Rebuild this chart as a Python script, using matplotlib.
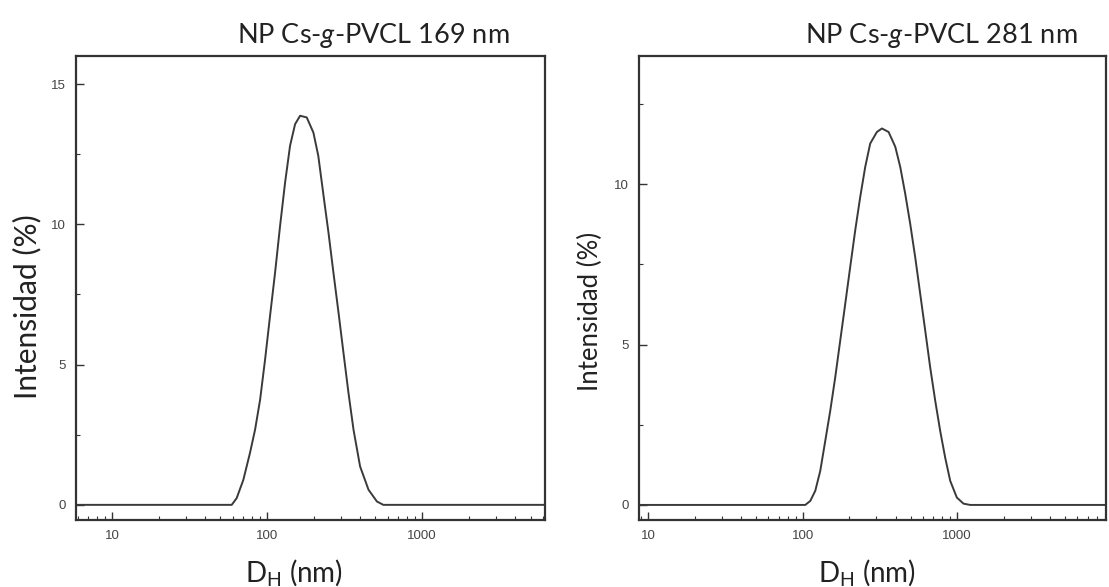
import numpy as np
import matplotlib
matplotlib.use("Agg")
import matplotlib.pyplot as plt
from matplotlib.ticker import MultipleLocator, FixedLocator, NullFormatter

plt.rcParams['font.family'] = ['Lato', 'DejaVu Sans']
plt.rcParams['mathtext.fontset'] = 'custom'
plt.rcParams['mathtext.rm'] = 'Lato'
plt.rcParams['mathtext.it'] = 'Lato:italic'

# DLS intensity distributions
d_169 = [6, 20, 50, 59.2, 63.7, 70.3, 77.6, 83.7, 90.2, 97.1, 104.5, 112.6, 121.3, 130.7,
         140.7, 151.6, 163.3, 180.3, 199, 214, 233, 249, 268, 289, 311, 335, 361, 398,
         451, 511, 562, 1000, 6200]
i_169 = [0, 0, 0, 0, 0.24, 0.89, 1.85, 2.68, 3.75, 5.18, 6.73, 8.27, 9.94, 11.49,
         12.80, 13.57, 13.87, 13.81, 13.27, 12.44, 10.89, 9.70, 8.27, 6.85, 5.42, 3.99, 2.68, 1.37,
         0.54, 0.12, 0, 0, 0]

d_281 = [8.7, 20, 60, 103.8, 111.9, 120.5, 129.8, 139.9, 150.7, 162.3, 174.9, 188.4, 202.9,
         218.6, 235.5, 253.8, 273.4, 302, 325.6, 359.7, 397.3, 427.9, 460.6, 496.3, 534.6,
         576.4, 620.9, 668.7, 720.8, 776.2, 835.9, 901.6, 995, 1099, 1213, 3000, 9200]
i_281 = [0, 0, 0, 0, 0.125, 0.44, 1.06, 2.0, 2.94, 3.98, 5.13, 6.27, 7.42,
         8.56, 9.60, 10.54, 11.27, 11.63, 11.74, 11.63, 11.17, 10.54, 9.71, 8.77, 7.73,
         6.58, 5.44, 4.29, 3.25, 2.31, 1.48, 0.75, 0.23, 0.04, 0, 0, 0]

titles = ["NP Cs-$\\it{g}$-PVCL 169 nm", "NP Cs-$\\it{g}$-PVCL 281 nm"]
xlims = [(5.86, 6200), (8.7, 9200)]
ylims = [(-0.54, 16.0), (-0.47, 14.0)]
xticks = [10, 100, 1000]
xticklabels = ['10', '100', '1000']

fig = plt.figure(figsize=(11.09, 5.87), dpi=100)
ax1 = fig.add_axes([76/1109, 67/587, 469/1109, 464/587])
ax2 = fig.add_axes([639/1109, 67/587, 467/1109, 464/587])

data = [(d_169, i_169), (d_281, i_281)]
title_x = [0.925, 0.938]
ylab_size = [21.5, 18.5]
ylab_pos = [(-0.073, 0.459), (-0.077, 0.45)]
xlab_pos = [(0.465, -0.08), (0.488, -0.08)]

for k, ax in enumerate([ax1, ax2]):
    x, y = data[k]
    ax.plot(x, y, color='#3a3a3a', linewidth=1.4)
    ax.set_xscale('log')
    ax.set_xlim(*xlims[k])
    ax.set_ylim(*ylims[k])
    ax.xaxis.set_major_locator(FixedLocator(xticks))
    ax.set_xticklabels(xticklabels)
    ax.xaxis.set_minor_formatter(NullFormatter())
    ax.yaxis.set_major_locator(MultipleLocator(5))
    ax.yaxis.set_minor_locator(MultipleLocator(2.5))
    ax.tick_params(which='both', direction='in', top=False, right=False,
                   labelsize=9.5, labelcolor='#444444', color='#333333')
    for lab in ax.get_xticklabels() + ax.get_yticklabels():
        lab.set_family('Liberation Sans')
    ax.tick_params(which='major', length=6, width=1, pad=7)
    ax.tick_params(which='minor', length=3, width=0.8)
    for s in ax.spines.values():
        s.set_linewidth(1.6)
        s.set_color('#333333')
    ax.set_ylabel('Intensidad (%)', fontsize=ylab_size[k], color='#222222')
    ax.yaxis.set_label_coords(*ylab_pos[k])
    ax.set_xlabel('D$_\\mathregular{H}$ (nm)', fontsize=20, color='#222222')
    ax.xaxis.set_label_coords(*xlab_pos[k])
    ax.text(title_x[k], 1.013, titles[k], transform=ax.transAxes, ha='right', va='bottom',
            fontsize=19.5, color='#222222')

fig.savefig('out.png', dpi=100)
